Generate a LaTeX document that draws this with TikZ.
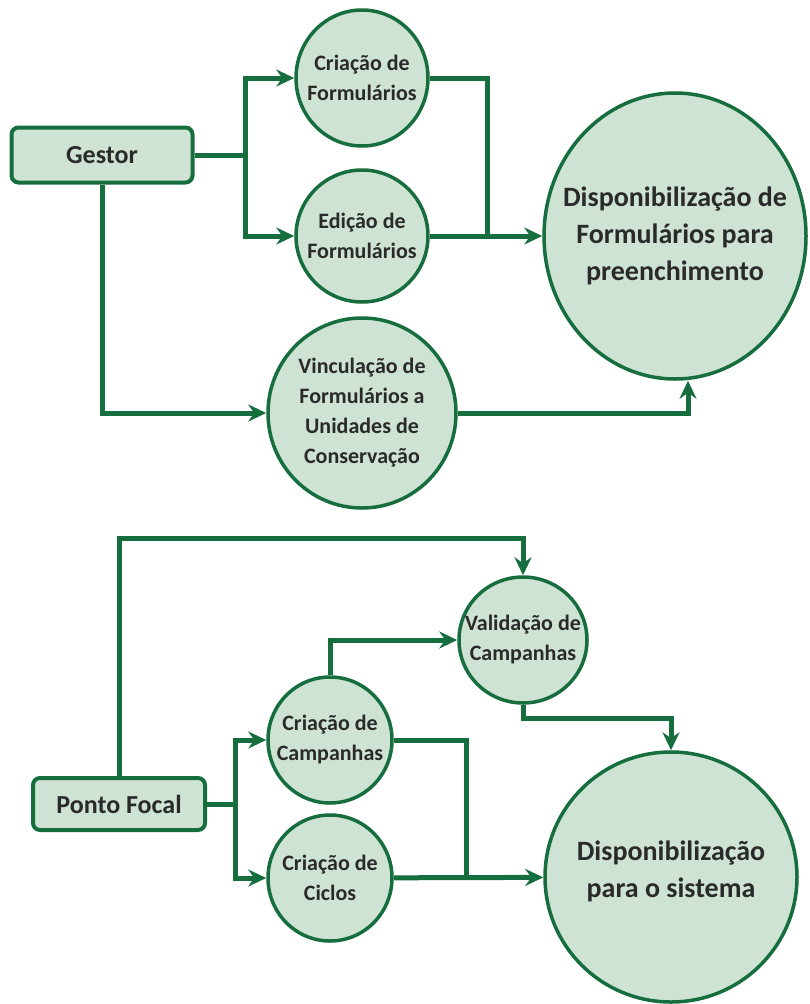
\documentclass[tikz,border=0pt]{standalone}
\usepackage{fontspec}
\setmainfont{Carlito}
\usepackage{xcolor}
\usetikzlibrary{shapes.geometric,arrows.meta}
\definecolor{leafgreen}{RGB}{22,110,62}
\definecolor{mintfill}{RGB}{206,227,211}
\definecolor{inkgray}{RGB}{42,42,42}
\begin{document}
\begin{tikzpicture}[x=1pt, y=-1pt,
  actorbox/.style={rectangle, rounded corners=7pt, draw=leafgreen, line width=4pt, fill=mintfill, text=inkgray, font=\fontsize{26}{30}\selectfont\bfseries, inner sep=0pt},
  taskshape/.style={ellipse, draw=leafgreen, line width=3.5pt, fill=mintfill, inner sep=0pt},
  tasktext/.style={text=inkgray, align=center, font=\fontsize{22}{30}\selectfont\bfseries},
  bigtext/.style={text=inkgray, align=center, font=\fontsize{28}{37}\selectfont\bfseries},
  link/.style={draw=leafgreen, line width=5pt},
  arrowlink/.style={link, -{Stealth[length=18pt, width=17pt, inset=6pt]}}]
\fill[white] (0,0) rectangle (809,1004);
\useasboundingbox (0,0) rectangle (809,1004);
\node[actorbox, minimum width=181pt, minimum height=55pt] (boxGestor) at (102,155) {Gestor};
\node[taskshape, minimum width=132pt, minimum height=136pt] (circleCriacao) at (362,78) {};
\node[taskshape, minimum width=132pt, minimum height=132pt] (circleEdicao) at (362,236) {};
\node[taskshape, minimum width=188pt, minimum height=190pt] (circleVinculo) at (362,413) {};
\node[taskshape, minimum width=262pt, minimum height=286pt] (bigA) at (675,236) {};
\node[tasktext] (textCriacao) at (circleCriacao) {Criação de\\Formulários};
\node[tasktext] (textEdicao) at (circleEdicao) {Edição de\\Formulários};
\node[tasktext] (textVinculo) at (circleVinculo) {Vinculação de\\Formulários a\\Unidades de\\Conservação};
\node[bigtext] (textBigA) at (bigA) {Disponibilização de\\Formulários para\\preenchimento};
\coordinate (splitA) at (245,155);
\coordinate (joinA) at (487,236);
\coordinate (cornerA) at (102,413);
\draw[link] (boxGestor) -- (splitA);
\draw[arrowlink] (splitA) |- (circleCriacao);
\draw[arrowlink] (splitA) |- (circleEdicao);
\draw[link] (circleCriacao) -| (joinA);
\draw[arrowlink] (circleEdicao) -- (bigA);
\draw[arrowlink] (boxGestor) -- (cornerA) -- (circleVinculo);
\draw[arrowlink] (circleVinculo) -| ([xshift=13pt]bigA.south);
\node[actorbox, minimum width=172pt, minimum height=52pt] (boxFocal) at (119,804) {Ponto Focal};
\node[taskshape, minimum width=128pt, minimum height=126pt] (circleValida) at (523,640) {};
\node[taskshape, minimum width=124pt, minimum height=126pt] (circleCampanha) at (330,740) {};
\node[taskshape, minimum width=124pt, minimum height=126pt] (circleCiclo) at (330,878) {};
\node[taskshape, minimum width=252pt, minimum height=250pt] (bigB) at (671,877) {};
\node[tasktext] (textValida) at (circleValida) {Validação de\\Campanhas};
\node[tasktext] (textCampanha) at (circleCampanha) {Criação de\\Campanhas};
\node[tasktext] (textCiclo) at (circleCiclo) {Criação de\\Ciclos};
\node[bigtext] (textBigB) at ([yshift=6pt]bigB.center) {Disponibilização\\para o sistema};
\coordinate (cornerTop) at (119,538);
\coordinate (cornerVal) at (523,718);
\coordinate (splitB) at (235,804);
\coordinate (joinB) at (466,877);
\draw[arrowlink] (boxFocal.north) -- (cornerTop) -| (circleValida);
\draw[arrowlink] (circleCampanha.north) |- (circleValida);
\draw[arrowlink] (circleValida.south) -- (cornerVal) -| (bigB);
\draw[link] (boxFocal) -- (splitB);
\draw[arrowlink] (splitB) |- (circleCampanha);
\draw[arrowlink] (splitB) |- (circleCiclo);
\draw[link] (circleCampanha) -| (joinB);
\draw[arrowlink] (circleCiclo) -- (bigB);
\end{tikzpicture}
\end{document}
